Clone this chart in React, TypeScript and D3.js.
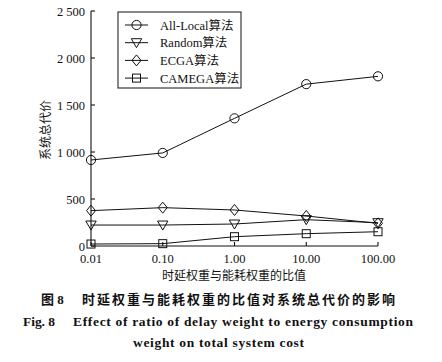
import React from 'react';
import * as d3 from 'd3';

// ratios on the x axis (log spaced)
const ratios = [0.01, 0.1, 1, 10, 100];
const ratioLabels = ['0.01', '0.10', '1.00', '10.00', '100.00'];

const yTicks = [0, 500, 1000, 1500, 2000, 2500];
const yTickLabels = ['0', '500', '1 000', '1 500', '2 000', '2 500'];

const seriesNames = ['All-Local算法', 'Random算法', 'ECGA算法', 'CAMEGA算法'];
const allLocal = [915, 990, 1358, 1722, 1805];
const random = [223, 223, 234, 280, 248];
const ecga = [376, 408, 383, 319, 241];
const camega = [21, 25, 99, 131, 152];

const W = 442;
const H = 362;
const serif = '"Liberation Serif", "Times New Roman", "Noto Sans CJK SC", serif';

const Marker = ({ kind, x, y }: { kind: string; x: number; y: number }) => {
  const st = { fill: 'none', stroke: '#111', strokeWidth: 1 };
  if (kind === 'circle') return <circle cx={x} cy={y} r={4.6} {...st} />;
  if (kind === 'tri')
    return <path d={`M${x - 5.2},${y - 4} L${x + 5.2},${y - 4} L${x},${y + 5} Z`} {...st} />;
  if (kind === 'diamond')
    return <path d={`M${x},${y - 5.5} L${x + 4.5},${y} L${x},${y + 5.5} L${x - 4.5},${y} Z`} {...st} />;
  return <rect x={x - 4} y={y - 4} width={8} height={8} {...st} />;
};

export default function App() {
  const x = d3.scaleLog().domain([0.01, 100]).range([91, 378]);
  const y = d3.scaleLinear().domain([0, 2500]).range([246, 11]);

  const data = [allLocal, random, ecga, camega];
  const kinds = ['circle', 'tri', 'diamond', 'square'];
  const line = d3
    .line<number>()
    .x((_, i) => x(ratios[i]))
    .y((d) => y(d));

  return (
    <svg width={W} height={H} style={{ position: 'absolute', left: 0, top: 0, background: '#fff' }}>
      <rect width={W} height={H} fill="#fff" />
      {/* axes */}
      <g stroke="#111" strokeWidth={1.1}>
        <line x1={x(0.01)} x2={x(0.01)} y1={y(2500)} y2={y(0)} />
        <line x1={x(0.01)} x2={x(100)} y1={y(0)} y2={y(0)} />
        {yTicks.map((t) => (
          <line key={t} x1={x(0.01)} x2={x(0.01) + 4} y1={y(t)} y2={y(t)} />
        ))}
        {ratios.map((r) => (
          <line key={r} x1={x(r)} x2={x(r)} y1={y(0)} y2={y(0) - 4} />
        ))}
      </g>
      <g fontFamily={serif} fontSize={12.5} fill="#111">
        {yTicks.map((t, i) => (
          <text key={t} x={85} y={y(t) + 4.5} textAnchor="end">
            {yTickLabels[i]}
          </text>
        ))}
        {ratios.map((r, i) => (
          <text key={r} x={x(r)} y={263} textAnchor="middle">
            {ratioLabels[i]}
          </text>
        ))}
        <text x={234} y={280} textAnchor="middle" fontSize={12}>
          时延权重与能耗权重的比值
        </text>
        <text transform="translate(50,130) rotate(-90)" textAnchor="middle" fontSize={12}>
          系统总代价
        </text>
      </g>

      {/* series */}
      {data.map((d, k) => (
        <g key={k}>
          <path d={line(d) || ''} fill="none" stroke="#111" strokeWidth={1} />
          {d.map((v, i) => (
            <Marker key={i} kind={kinds[k]} x={x(ratios[i])} y={y(v)} />
          ))}
        </g>
      ))}

      {/* legend */}
      <rect x={118} y={12} width={123} height={76} fill="#fff" stroke="#111" strokeWidth={1} />
      {seriesNames.map((n, k) => {
        const ly = 25 + k * 17.7;
        return (
          <g key={n}>
            <line x1={125} x2={148} y1={ly} y2={ly} stroke="#111" strokeWidth={1} />
            <Marker kind={kinds[k]} x={136.5} y={ly} />
            <text x={160} y={ly + 4.5} fontFamily={serif} fontSize={12.5} fill="#111">
              {n}
            </text>
          </g>
        );
      })}

      {/* caption */}
      <g fontFamily={serif} fontWeight="bold" fill="#111">
        <text x={41} y={304} fontSize={13}>
          图 8
        </text>
        <text x={82} y={304} fontSize={13} textLength={313} lengthAdjust="spacing">
          时延权重与能耗权重的比值对系统总代价的影响
        </text>
        <text x={23} y={326} fontSize={13.5} textLength={32} lengthAdjust="spacing">
          Fig. 8
        </text>
        <text x={73} y={326} fontSize={13.5} textLength={340} lengthAdjust="spacing">
          Effect of ratio of delay weight to energy consumption
        </text>
        <text x={133} y={347} fontSize={13.5} textLength={171} lengthAdjust="spacing">
          weight on total system cost
        </text>
      </g>
    </svg>
  );
}
